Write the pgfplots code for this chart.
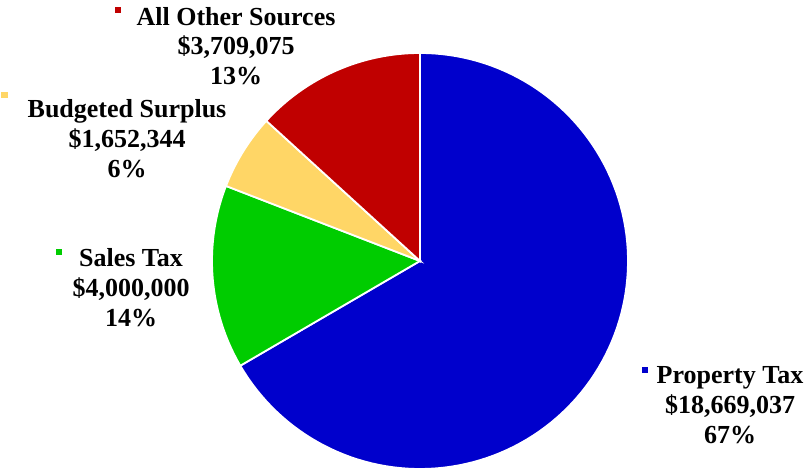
\documentclass[border=0pt]{standalone}
\usepackage{pgfplots}
\pgfplotsset{compat=1.18}
\usepackage{fontspec}
\setmainfont{Liberation Serif}
\definecolor{cA}{RGB}{0,0,204}
\definecolor{cB}{RGB}{0,204,0}
\definecolor{cC}{RGB}{255,214,102}
\definecolor{cD}{RGB}{192,0,0}
% values in millions of dollars
\def\vA{18.669037}% Property Tax
\def\vB{4.000000}% Sales Tax
\def\vC{1.652344}% Budgeted Surplus
\def\vD{3.709075}% All Other Sources
\pgfmathsetmacro\tot{\vA+\vB+\vC+\vD}
\pgfmathsetmacro\aA{90-360*\vA/\tot}
\pgfmathsetmacro\aB{\aA-360*\vB/\tot}
\pgfmathsetmacro\aC{\aB-360*\vC/\tot}
\pgfmathsetmacro\aD{\aC-360*\vD/\tot}
\begin{document}
\begin{tikzpicture}
\begin{axis}[hide axis, scale only axis, width=808pt, height=470pt,
  xmin=0, xmax=808, ymin=0, ymax=470, clip=false]
\path (axis cs:0,0) rectangle (axis cs:808,470);
\addplot[fill=cA, draw=white, line width=1.8pt, domain=\aA:90, samples=120, variable=\t]
  ({420+208*cos(\t)},{209+208*sin(\t)}) -- (axis cs:420,209) -- cycle;
\addplot[fill=cB, draw=white, line width=1.8pt, domain=\aB:\aA, samples=40, variable=\t]
  ({420+208*cos(\t)},{209+208*sin(\t)}) -- (axis cs:420,209) -- cycle;
\addplot[fill=cC, draw=white, line width=1.8pt, domain=\aC:\aB, samples=30, variable=\t]
  ({420+208*cos(\t)},{209+208*sin(\t)}) -- (axis cs:420,209) -- cycle;
\addplot[fill=cD, draw=white, line width=1.8pt, domain=\aD:\aC, samples=40, variable=\t]
  ({420+208*cos(\t)},{209+208*sin(\t)}) -- (axis cs:420,209) -- cycle;
\tikzset{lab/.style={anchor=base, inner sep=0pt, font=\fontsize{26}{30}\selectfont\bfseries}}
% All Other Sources
\node[anchor=center, inner sep=0pt] at (axis cs:118,460) {\textcolor{cD}{\rule{6pt}{6pt}}};
\node[lab] at (axis cs:236,444) {All Other Sources};
\node[lab] at (axis cs:236,415) {\$3,709,075};
\node[lab] at (axis cs:236,385) {13\%};
% Budgeted Surplus
\node[anchor=center, inner sep=0pt] at (axis cs:4.5,375) {\textcolor{cC}{\rule{6pt}{6pt}}};
\node[lab] at (axis cs:127,352) {Budgeted Surplus};
\node[lab] at (axis cs:127,322) {\$1,652,344};
\node[lab] at (axis cs:127,292) {6\%};
% Sales Tax
\node[anchor=center, inner sep=0pt] at (axis cs:59,217.5) {\textcolor{cB}{\rule{6pt}{6pt}}};
\node[lab] at (axis cs:131,203) {Sales Tax};
\node[lab] at (axis cs:131,173) {\$4,000,000};
\node[lab] at (axis cs:131,143) {14\%};
% Property Tax
\node[anchor=center, inner sep=0pt] at (axis cs:644.5,99.5) {\textcolor{cA}{\rule{6pt}{6pt}}};
\node[lab] at (axis cs:730,86) {Property Tax};
\node[lab] at (axis cs:730,56) {\$18,669,037};
\node[lab] at (axis cs:730,26) {67\%};
\end{axis}
\end{tikzpicture}
\end{document}
